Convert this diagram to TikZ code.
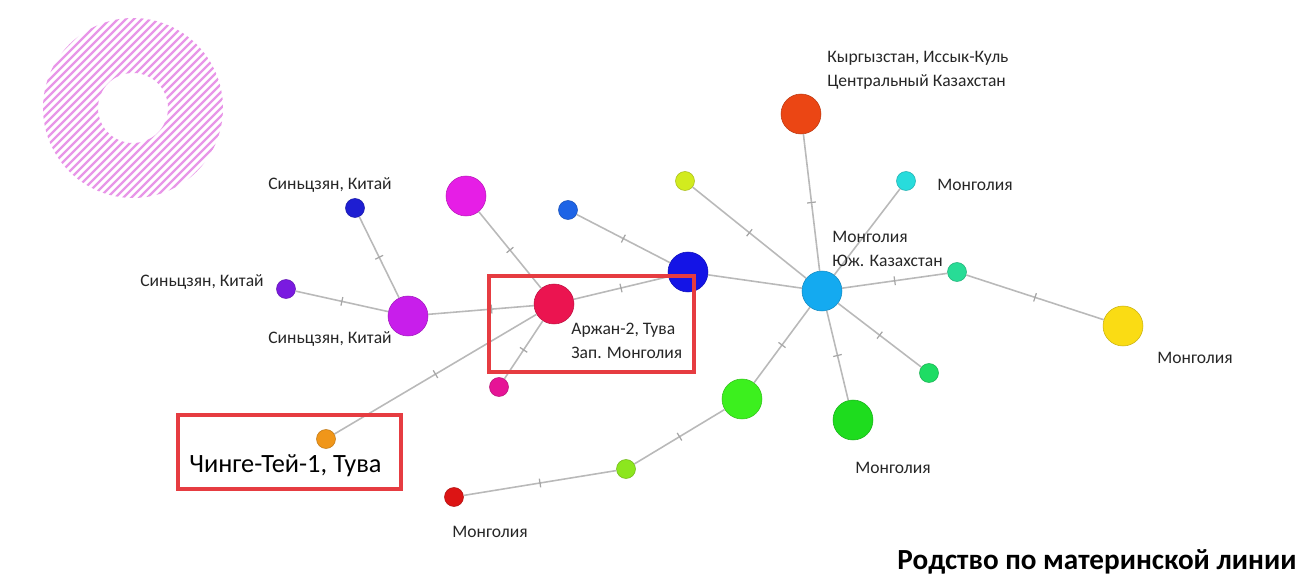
\documentclass[tikz,border=0pt]{standalone}
\usepackage{fontspec}
\setmainfont{Carlito}

\definecolor{ringpink}{HTML}{E896E8}
\definecolor{boxred}{HTML}{E63C41}
\definecolor{cSinA}{HTML}{1E1ED2}
\definecolor{cSinB}{HTML}{7A1AE0}
\definecolor{cSinC}{HTML}{C81EEB}
\definecolor{cMag}{HTML}{E61EE6}
\definecolor{cBlueS}{HTML}{1E64E6}
\definecolor{cArzh}{HTML}{EB1450}
\definecolor{cBlueB}{HTML}{1414E6}
\definecolor{cPinkS}{HTML}{E61496}
\definecolor{cOrange}{HTML}{F09619}
\definecolor{cYelGr}{HTML}{D2EB1E}
\definecolor{cOrRed}{HTML}{EB4614}
\definecolor{cCyan}{HTML}{28DCDC}
\definecolor{cCenter}{HTML}{14AAF0}
\definecolor{cTeal}{HTML}{28DC96}
\definecolor{cYellow}{HTML}{FADC14}
\definecolor{cGreenS}{HTML}{1EDC64}
\definecolor{cGreenB}{HTML}{1EDC1E}
\definecolor{cLimeB}{HTML}{3CF01E}
\definecolor{cLimeS}{HTML}{8CE61E}
\definecolor{cRed}{HTML}{DC1414}

\begin{document}
\begin{tikzpicture}[x=0.02cm, y=-0.02cm,
  hap/.style={circle, inner sep=0, draw=#1!80!black, fill=#1, line width=0.3pt},
  big/.style={minimum size=0.8cm},
  small/.style={minimum size=0.38cm},
  edge/.style={draw=gray!55, line width=0.9pt},
  tk/.style={sloped, fill=gray!70, inner sep=0, minimum width=0.7pt, minimum height=5pt},
  lbl/.style={font=\fontsize{10}{13.6}\selectfont, text=black!85, align=left, inner sep=0},
  box/.style={draw=boxred, line width=2.2pt}]
\useasboundingbox (0,0) rectangle (1302,577);

% hatched ring
\begin{scope}[even odd rule]
\clip (133,108) circle[radius=90] (133,108) circle[radius=35];
\foreach \k in {-200,-192,...,200}
  \draw[ringpink, line width=1.4pt] (33+\k,208) -- ++(200,-200);
\end{scope}

% haplotypes
\node[hap=cSinA, small] (sinA) at (355,208) {};
\node[hap=cSinB, small] (sinB) at (286,289) {};
\node[hap=cSinC, big] (sinC) at (408,316) {};
\node[hap=cMag, big] (mag) at (466,196) {};
\node[hap=cBlueS, small] (blueS) at (568,210) {};
\node[hap=cArzh, big] (arzh) at (554,304) {};
\node[hap=cBlueB, big] (blueB) at (688,272) {};
\node[hap=cPinkS, small] (pinkS) at (499,387) {};
\node[hap=cOrange, small] (chinge) at (326,439) {};
\node[hap=cYelGr, small] (yelgr) at (685,181) {};
\node[hap=cOrRed, big] (orred) at (801,114) {};
\node[hap=cCyan, small] (cyan) at (906,181) {};
\node[hap=cCenter, big] (center) at (822,291) {};
\node[hap=cTeal, small] (teal) at (957,272) {};
\node[hap=cYellow, big] (yellow) at (1123,326) {};
\node[hap=cGreenS, small] (greenS) at (929,373) {};
\node[hap=cGreenB, big] (greenB) at (853,420) {};
\node[hap=cLimeB, big] (limeB) at (742,399) {};
\node[hap=cLimeS, small] (limeS) at (626,469) {};
\node[hap=cRed, small] (red) at (454,497) {};

% links
\draw[edge] (sinA) -- node[tk]{} (sinC);
\draw[edge] (sinB) -- node[tk]{} (sinC);
\draw[edge] (sinC) -- node[tk, pos=.6]{} (arzh);
\draw[edge] (mag) -- node[tk]{} (arzh);
\draw[edge] (arzh) -- node[tk]{} (blueB);
\draw[edge] (blueS) -- node[tk]{} (blueB);
\draw[edge] (arzh) -- node[tk]{} (pinkS);
\draw[edge] (arzh) -- node[tk]{} (chinge);
\draw[edge] (blueB) -- (center);
\draw[edge] (yelgr) -- node[tk]{} (center);
\draw[edge] (orred) -- node[tk]{} (center);
\draw[edge] (cyan) -- (center);
\draw[edge] (center) -- node[tk]{} (teal);
\draw[edge] (teal) -- node[tk]{} (yellow);
\draw[edge] (center) -- node[tk]{} (greenS);
\draw[edge] (center) -- node[tk]{} (greenB);
\draw[edge] (center) -- node[tk]{} (limeB);
\draw[edge] (limeB) -- node[tk]{} (limeS);
\draw[edge] (limeS) -- node[tk]{} (red);

% labels
\node[lbl] (lSinA) at (330,185) {Синьцзян, Китай};
\node[lbl] (lSinB) at (202,282) {Синьцзян, Китай};
\node[lbl] (lSinC) at (330,339) {Синьцзян, Китай};
\node[lbl, anchor=west] (lOrRed) at (827,70) {Кыргызстан, Иссык-Куль\\Центральный Казахстан};
\node[lbl, anchor=west] (lCyan) at (937,185) {Монголия};
\node[lbl, anchor=west] (lCenter) at (832,249) {Монголия\\Юж. Казахстан};
\node[lbl, anchor=west] (lYellow) at (1157,358) {Монголия};
\node[lbl, anchor=west] (lGreenB) at (855,468) {Монголия};
\node[lbl, anchor=west] (lRed) at (452,532) {Монголия};
\node[lbl, anchor=west] (lArzh) at (571,341) {Аржан-2, Тува\\Зап. Монголия};
\node[lbl, anchor=west, font=\fontsize{15}{17}\selectfont, text=black] (lChinge) at (189,466) {Чинге-Тей-1, Тува};
\node[anchor=west, inner sep=0, font=\fontsize{16.6}{19}\selectfont\bfseries] (title) at (897,562) {Родство по материнской линии};

% highlight boxes
\draw[box] (489,276) rectangle (694,372);
\draw[box] (178,415) rectangle (401,489);
\end{tikzpicture}
\end{document}
